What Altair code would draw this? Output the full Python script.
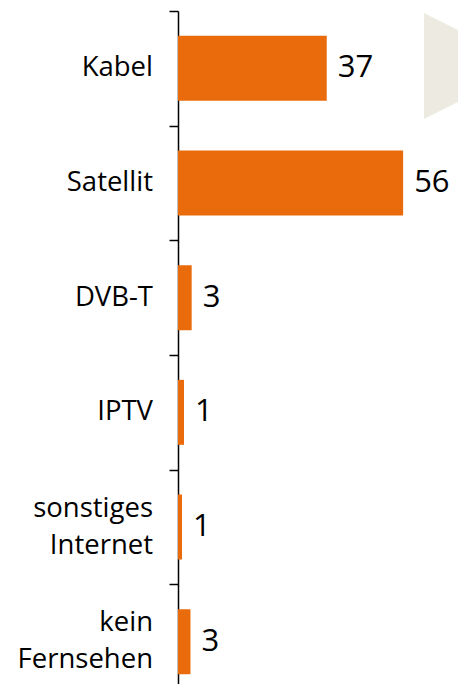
import altair as alt
import pandas as pd

categories = ["Kabel", "Satellit", "DVB-T", "IPTV", "sonstiges\u00a0|Internet", "kein\u00a0|Fernsehen"]
line_counts = [1, 1, 1, 1, 2, 2]
values = [37, 56, 3.4, 1.5, 1.0, 3.1]
value_labels = ["37", "56", "3", "1", "1", "3"]

df = pd.DataFrame({"cat": categories, "n": line_counts, "val": values, "lab": value_labels})

BAR_COLOR = "#E96B0B"
FONT = "Open Sans"
LINE_H = 37

y_enc = alt.Y(
    "cat:N",
    sort=categories,
    title=None,
    scale=alt.Scale(paddingInner=0, paddingOuter=0, range=[0, 688]),
    axis=alt.Axis(
        labels=False,
        tickBand="extent",
        domainColor="black",
        domainWidth=1.5,
        tickColor="black",
        tickWidth=1.5,
        tickSize=9,
    ),
)

x_enc = alt.X("val:Q", title=None, axis=None, scale=alt.Scale(domain=[0, 69.65]))

bars = alt.Chart(df).mark_bar(size=65, color=BAR_COLOR).encode(x=x_enc, y=y_enc)

texts = alt.Chart(df).mark_text(
    align="left", baseline="middle", dx=11, font=FONT, fontSize=31, color="black"
).encode(x=x_enc, y=y_enc, text="lab:N")

cat1 = alt.Chart(df).transform_filter("datum.n == 1").mark_text(
    align="right", baseline="middle", font=FONT, fontSize=27.5, color="black"
).encode(x=alt.value(-25), y=y_enc, text="cat:N")

cat2 = alt.Chart(df).transform_filter("datum.n == 2").mark_text(
    align="right", baseline="middle", font=FONT, fontSize=27.5, color="black",
    lineBreak="|", lineHeight=LINE_H, dy=-LINE_H / 2,
).encode(x=alt.value(-25), y=y_enc, text="cat:N")

deco = alt.Chart(pd.DataFrame({"d": [0]})).mark_point(
    shape="M-1,-1L1,0L-1,1Z", filled=True, size=11236, color="#EDEBE1", opacity=1
).encode(x=alt.value(299), y=alt.value(55))

chart = alt.layer(deco, bars, texts, cat1, cat2).properties(
    width=280,
    height=673,
    autosize=alt.AutoSizeParams(type="none"),
    padding={"left": 170, "top": 3, "right": 0, "bottom": 0},
).configure_view(stroke=None)

chart.save("out.html", embed_options={"renderer": "svg", "actions": False})
